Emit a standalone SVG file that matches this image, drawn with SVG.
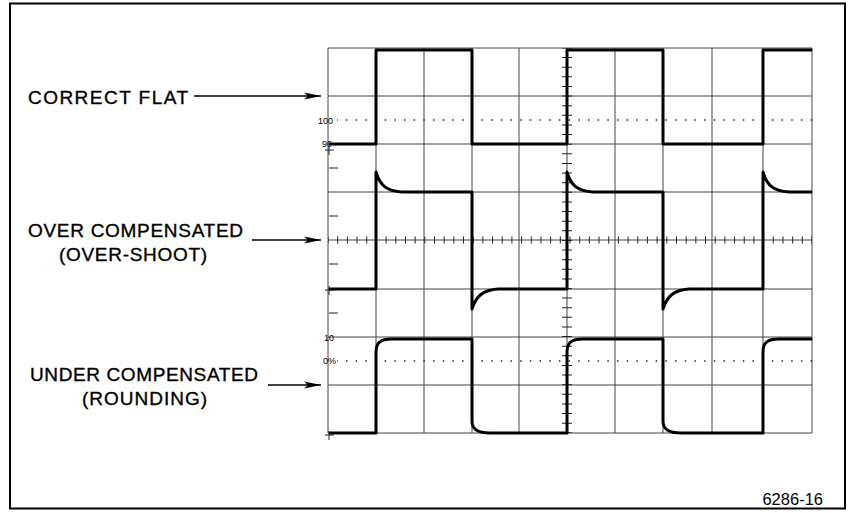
<svg xmlns="http://www.w3.org/2000/svg" width="849" height="513" viewBox="0 0 849 513">
<style>
.lbl{font-family:"Liberation Sans",Arial,sans-serif;font-size:19px;fill:#000;stroke:#000;stroke-width:0.35}
.scl{font-family:"Liberation Sans",Arial,sans-serif;font-size:9px;fill:#000}
.grid{stroke:#444;stroke-width:1;fill:none}
.trace{stroke:#000;stroke-width:3;fill:none;stroke-linejoin:round}
.conn{stroke:#000;stroke-width:1.5;fill:none}
.tick{stroke:#222;fill:none}
</style>
<defs>
<marker id="ah" markerUnits="userSpaceOnUse" markerWidth="20" markerHeight="10" viewBox="-18 -5 20 10" refX="0" refY="0" orient="auto">
<path d="M0,0 L-17,-3.5 L-13,0 L-17,3.5 Z" fill="#000"/>
</marker>
</defs>
<rect x="0" y="0" width="849" height="513" fill="#fff"/>
<rect id="frame" x="10" y="3.5" width="835" height="505" fill="none" stroke="#000" stroke-width="2"/>

<g id="graticule">
<g class="grid">
<path d="M328,48V433M376,48V433M424,48V433M472,48V433M519,48V433M567,48V433M615,48V433M663,48V433M712,48V433M763,48V433M812,48V433"/>
<path d="M328,48H812M328,96H812M328,144H812M328,192H812M328,240H812M328,289H812M328,337H812M328,385H812M328,433H812"/>
</g>
<line class="tick" x1="337" y1="120" x2="812" y2="120" stroke-width="1.5" stroke-dasharray="1.5 8.18" stroke-dashoffset="0.75"/>
<line class="tick" x1="337" y1="361" x2="812" y2="361" stroke-width="1.5" stroke-dasharray="1.5 8.18" stroke-dashoffset="0.75"/>
<line class="tick" x1="328" y1="240" x2="812" y2="240" stroke-width="7" stroke-dasharray="1 8.68" stroke-dashoffset="0.5"/>
<line class="tick" x1="567" y1="48" x2="567" y2="433" stroke-width="10" stroke-dasharray="1 8.62" stroke-dashoffset="0.5"/>
<path class="tick" stroke-width="1" d="M329,168H338M329,216H338M329,264H338M329,313H338"/>
<path class="tick" stroke-width="1" d="M325,150H334M329,146V155M325,290H334M329,286V295M325,435H334M329,431V440"/>
<text class="scl" x="318" y="124">100</text>
<text class="scl" x="322" y="147">90</text>
<text class="scl" x="324" y="341">10</text>
<text class="scl" x="323" y="364">0%</text>
</g>

<g id="traces">
<path id="trace-flat" class="trace" d="M329,144H376V50H472V144H567V50H663V144H763V50H812"/>
<path id="trace-over" class="trace" d="M329,289H376V172C380,186 387,191 402,192H472V309C476,296 483,290 498,289H567V172C571,186 578,191 593,192H663V309C667,296 674,290 689,289H763V172C767,186 774,191 789,192H812"/>
<path id="trace-under" class="trace" d="M329,433H376V352C376,343 380,339 392,339H472V421C472,429 477,433 490,433H567V352C567,343 571,339 583,339H663V421C663,429 668,433 681,433H763V352C763,343 767,339 779,339H812"/>
</g>

<g id="label-flat">
<text class="lbl" x="28" y="104" textLength="160" lengthAdjust="spacing">CORRECT FLAT</text>
</g>
<g id="label-over">
<text class="lbl" x="28" y="237" textLength="215" lengthAdjust="spacing">OVER COMPENSATED</text>
<text class="lbl" x="59" y="261" textLength="148" lengthAdjust="spacing">(OVER-SHOOT)</text>
</g>
<g id="label-under">
<text class="lbl" x="30" y="381" textLength="228" lengthAdjust="spacing">UNDER COMPENSATED</text>
<text class="lbl" x="82" y="405" textLength="125" lengthAdjust="spacing">(ROUNDING)</text>
</g>

<g id="connectors">
<line class="conn" x1="194" y1="96" x2="321" y2="96" marker-end="url(#ah)"/>
<line class="conn" x1="252" y1="240" x2="321" y2="240" marker-end="url(#ah)"/>
<line class="conn" x1="268" y1="385" x2="321" y2="385" marker-end="url(#ah)"/>
</g>

<g id="fig-number">
<text x="823" y="505" text-anchor="end" font-family="Liberation Sans, Arial, sans-serif" font-size="16.5">6286-16</text>
</g>
</svg>
